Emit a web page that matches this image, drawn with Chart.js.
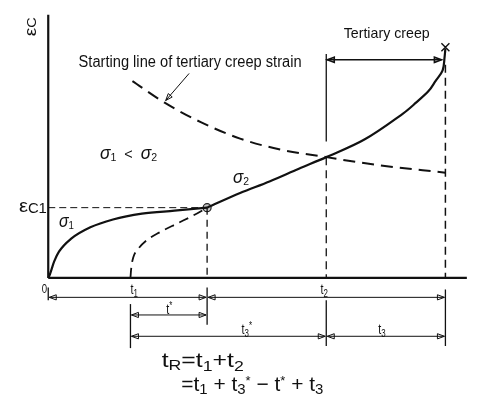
<!DOCTYPE html>
<html><head><meta charset="utf-8">
<script src="https://cdn.jsdelivr.net/npm/chart.js@4"></script>
<style>html,body{margin:0;padding:0;background:#fff}canvas{display:block}</style>
</head><body>
<canvas id="c" width="478" height="398"></canvas>
<script>
// Creep curves (time and creep strain in arbitrary units)
const sigma1Time   = [0, 0.025, 0.15, 0.27, 0.57, 1.06, 1.63, 2.36, 3.18, 4.0];
const sigma1Strain = [0, 0.08, 0.71, 1.13, 1.68, 2.18, 2.52, 2.77, 2.90, 3.03];

const sigma2PrimaryTime   = [2.07, 2.09, 2.14, 2.27, 2.49, 2.81, 3.25, 3.65, 4.0];
const sigma2PrimaryStrain = [0, 0.42, 0.88, 1.26, 1.64, 1.97, 2.35, 2.69, 3.03];

const sigma2Time   = [4.0, 4.83, 5.57, 6.31, 7.0, 7.96, 8.94, 9.26, 9.58, 9.75, 9.93, 9.98, 10.0];
const sigma2Strain = [3.03, 3.66, 4.16, 4.71, 5.21, 5.97, 7.10, 7.56, 8.07, 8.49, 8.95, 9.54, 9.9];

const tertiaryStartTime   = [2.12, 2.93, 3.84, 4.83, 5.81, 7.0, 8.28, 10.0];
const tertiaryStartStrain = [8.49, 7.56, 6.72, 6.01, 5.55, 5.21, 4.87, 4.54];

// Key instants and strains
const keyTimes   = [2.07, 4.0, 7.0, 10.0];   // t1, t1 + t*, t2 (start of tertiary), rupture
const keyStrains = [3.03, 5.21, 9.95];       // eps_C1, tertiary start, rupture
const [t1, tJoin, t2, tR] = keyTimes;
const [epsC1, epsCross, epsRup] = keyStrains;

const pts = (xs, ys) => xs.map((x, i) => ({x, y: ys[i]}));

const FAM = '"Liberation Sans", Arial, sans-serif';
function rich(ctx, parts, x, y, size, opts = {}) {
  const f = p => `${p[3] || ''} ${Math.round(size * (p[1] || 1))}px ${FAM}`;
  let w = 0; const ws = [];
  for (const p of parts) { ctx.font = f(p); const m = ctx.measureText(p[0]).width; ws.push(m); w += m; }
  const sc = opts.width ? opts.width / w : (opts.sx || 1);
  const align = opts.align || 'left';
  const x0 = align === 'center' ? x - w * sc / 2 : align === 'right' ? x - w * sc : x;
  ctx.save(); ctx.translate(x0, y); ctx.scale(sc, 1);
  ctx.textBaseline = 'alphabetic'; ctx.textAlign = 'left';
  let cx = 0;
  parts.forEach((p, i) => { ctx.font = f(p); ctx.fillText(p[0], cx, (p[2] || 0) * size); cx += ws[i]; });
  ctx.restore();
}
function head(ctx, x, y, dx, dy) {
  const L = 7, H = 2.6, n = Math.hypot(dx, dy), ux = dx / n, uy = dy / n;
  ctx.beginPath();
  ctx.moveTo(x - ux * L - uy * H, y - uy * L + ux * H);
  ctx.lineTo(x, y);
  ctx.lineTo(x - ux * L + uy * H, y - uy * L - ux * H);
  ctx.closePath(); ctx.stroke();
}
function dim(ctx, xa, xb, y) {
  ctx.beginPath(); ctx.moveTo(xa, y); ctx.lineTo(xb, y); ctx.stroke();
  head(ctx, xb, y, 1, 0); head(ctx, xa, y, -1, 0);
}

const annot = {
  id: 'annot',
  afterDatasetsDraw(chart) {
    const ctx = chart.ctx;
    const X = v => chart.scales.x.getPixelForValue(v);
    const Y = v => chart.scales.y.getPixelForValue(v);
    ctx.save();
    ctx.fillStyle = '#111'; ctx.strokeStyle = '#111';

    // rupture mark
    const rx = X(tR), ry = Y(epsRup);
    ctx.lineWidth = 1.4; ctx.beginPath();
    ctx.moveTo(rx - 4, ry - 4); ctx.lineTo(rx + 4, ry + 4);
    ctx.moveTo(rx + 4, ry - 4); ctx.lineTo(rx - 4, ry + 4); ctx.stroke();

    // tertiary creep arrow
    ctx.lineWidth = 1.6;
    dim(ctx, X(t2) + 1, X(tR) - 4, Y(9.41));

    // pointer arrow to starting line
    ctx.lineWidth = 1;
    const ax = X(3.547), ay = Y(8.82), bx = X(2.956), by = Y(7.65);
    ctx.beginPath(); ctx.moveTo(ax, ay); ctx.lineTo(bx, by); ctx.stroke();
    head(ctx, bx, by, bx - ax, by - ay);

    // texts
    rich(ctx, [['Starting line of tertiary creep strain']], X(0.764), Y(9.08), 16, {width: 223});
    rich(ctx, [['Tertiary creep']], X(8.522), Y(10.336), 15, {width: 86, align: 'center'});
    rich(ctx, [['σ', 1.05, 0, 'italic'], ['1', 0.65, 0.12], ['  <  ', 0.9], ['σ', 1.05, 0, 'italic'], ['2', 0.65, 0.12]], X(1.305), Y(5.126), 17, {width: 57});
    rich(ctx, [['σ', 1.05, 0, 'italic'], ['2', 0.65, 0.12]], X(4.655), Y(4.076), 17, {width: 16});
    rich(ctx, [['σ', 1.05, 0, 'italic'], ['1', 0.65, 0.12]], X(0.271), Y(2.185), 17, {width: 15});
    rich(ctx, [['ε', 1.1, -0.05], ['C1', 0.8, 0.05]], X(-0.739), Y(2.815), 17, {width: 28});
    // y-axis title (rotated)
    ctx.save(); ctx.translate(X(-0.30), Y(10.84)); ctx.rotate(-Math.PI / 2);
    rich(ctx, [['ε', 1.1], ['C', 0.85]], 0, 0, 15, {width: 19, align: 'center'});
    ctx.restore();
    rich(ctx, [['0']], X(-0.099), Y(-0.672), 12, {sx: 0.8, align: 'center'});

    // dimension ticks
    ctx.lineWidth = 1.3;
    const tick = (t, a, b) => { ctx.beginPath(); ctx.moveTo(X(t), Y(a)); ctx.lineTo(X(t), Y(b)); ctx.stroke(); };
    tick(0, -0.42, -0.97);
    tick(t1, -1.13, -3.03);
    tick(tJoin, -0.42, -2.02);
    tick(t2, -0.97, -2.94);
    tick(tR, -0.50, -2.94);

    // dimension lines
    ctx.lineWidth = 1;
    dim(ctx, X(0) + 1, X(tJoin) - 1, Y(-0.84));
    dim(ctx, X(tJoin) + 1, X(tR) - 1, Y(-0.84));
    dim(ctx, X(t1) + 1, X(tJoin) - 1, Y(-1.60));
    dim(ctx, X(t1) + 1, X(t2) - 1, Y(-2.52));
    dim(ctx, X(t2) + 1, X(tR) - 1, Y(-2.52));

    // dimension labels
    const sub = (a, b, extra) => { const p = [[a, 1], [b, 0.7, 0.15]]; if (extra) p.push([extra, 0.7, -0.35]); return p; };
    rich(ctx, sub('t', '1'), X(2.167), Y(-0.714), 15, {sx: 0.72, align: 'center'});
    rich(ctx, sub('t', '2'), X(6.946), Y(-0.714), 15, {sx: 0.72, align: 'center'});
    rich(ctx, [['t', 1], ['*', 0.7, -0.35]], X(3.05), Y(-1.555), 15, {sx: 0.72, align: 'center'});
    rich(ctx, sub('t', '3', '*'), X(5.0), Y(-2.437), 15, {sx: 0.72, align: 'center'});
    rich(ctx, sub('t', '3'), X(8.4), Y(-2.437), 15, {sx: 0.72, align: 'center'});

    // formula
    rich(ctx, [['t'], ['R', 0.7, 0.1], ['='], ['t'], ['1', 0.7, 0.15], ['+'], ['t'], ['2', 0.7, 0.15]], X(2.857), Y(-3.866), 21, {width: 82});
    rich(ctx, [['='], ['t'], ['1', 0.7, 0.15], [' + '], ['t'], ['3', 0.7, 0.15], ['*', 0.6, -0.3], [' − '], ['t'], ['*', 0.6, -0.3], [' + '], ['t'], ['3', 0.7, 0.15]], X(3.35), Y(-4.874), 21, {width: 142});
    ctx.restore();
  }
};

const blk = '#111';
new Chart(document.getElementById('c'), {
  type: 'scatter',
  data: {
    datasets: [
      // axes
      {data: pts([0, 0], [0, 11.35]), borderColor: blk, borderWidth: 2.2},
      {data: pts([0, 10.54], [0, 0]), borderColor: blk, borderWidth: 2.2},
      // guide lines
      {data: pts([0, tJoin], [epsC1, epsC1]), borderColor: blk, borderWidth: 1, borderDash: [7, 4]},
      {data: pts([tJoin, tJoin], [epsC1, 0]), borderColor: blk, borderWidth: 1.3, borderDash: [7, 5]},
      {data: pts([t2, t2], [epsCross, 0]), borderColor: blk, borderWidth: 1.3, borderDash: [8, 5]},
      {data: pts([t2, t2], [5.88, 9.66]), borderColor: blk, borderWidth: 1.3},
      {data: pts([tR, tR], [9.2, 0]), borderColor: blk, borderWidth: 1.5, borderDash: [8, 5]},
      // starting line of tertiary creep
      {data: pts(tertiaryStartTime, tertiaryStartStrain), borderColor: blk, borderWidth: 2, borderDash: [12, 7], cubicInterpolationMode: 'monotone'},
      // sigma2 primary part (dashed)
      {data: pts(sigma2PrimaryTime, sigma2PrimaryStrain), borderColor: blk, borderWidth: 1.8, borderDash: [10, 6], cubicInterpolationMode: 'monotone'},
      // sigma1 curve
      {data: pts(sigma1Time, sigma1Strain), borderColor: blk, borderWidth: 2.2, cubicInterpolationMode: 'monotone'},
      // sigma2 curve
      {data: pts(sigma2Time, sigma2Strain), borderColor: blk, borderWidth: 2.2, tension: 0.35},
      // joining point
      {data: pts([tJoin], [epsC1]), showLine: false, pointRadius: 4, pointBackgroundColor: '#c8c8c8', pointBorderColor: '#222', pointBorderWidth: 1.2}
    ].map(d => Object.assign({showLine: true, pointRadius: 0, fill: false}, d))
  },
  options: {
    responsive: false, animation: false, devicePixelRatio: 1,
    layout: {padding: 0},
    plugins: {legend: {display: false}, tooltip: {enabled: false}},
    scales: {
      x: {type: 'linear', display: false, min: -44 / 40.6, max: (478 - 44) / 40.6},
      y: {type: 'linear', display: false, min: -(398 - 280) / 23.8, max: 280 / 23.8}
    }
  },
  plugins: [annot]
});
</script>
</body></html>
